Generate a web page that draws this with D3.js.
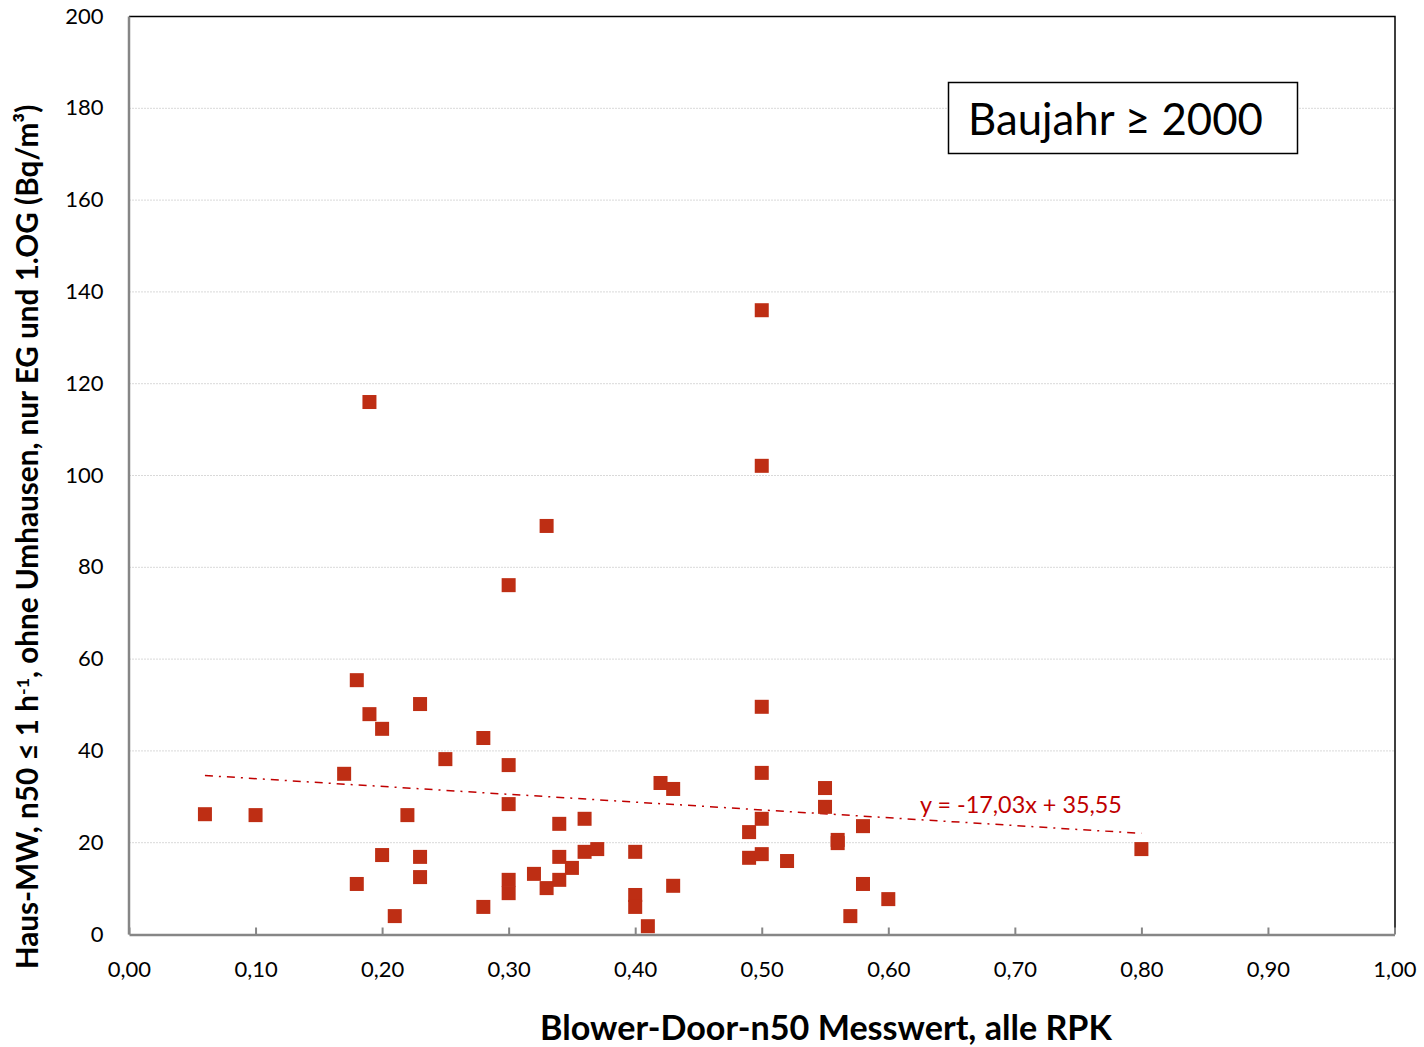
<!DOCTYPE html>
<html>
<head>
<meta charset="utf-8">
<script src="https://d3js.org/d3.v7.min.js"></script>
<style>
  body { margin: 0; background: #fff; }
  text { font-family: Lato, "Open Sans", sans-serif; }
</style>
</head>
<body>
<svg id="chart" width="1424" height="1047"></svg>
<script>
// Blower-Door n50 vs. Haus-MW, Baujahr >= 2000
var n50 = [0.06, 0.10, 0.19, 0.18, 0.19, 0.20, 0.17, 0.23, 0.25, 0.28,
    0.30, 0.30, 0.33, 0.30, 0.22, 0.18, 0.20, 0.21, 0.23, 0.23,
    0.28, 0.30, 0.30, 0.32, 0.33, 0.34, 0.34, 0.34, 0.35, 0.36,
    0.36, 0.37, 0.40, 0.40, 0.40, 0.41, 0.42, 0.43, 0.43, 0.50,
    0.50, 0.50, 0.50, 0.50, 0.49, 0.49, 0.50, 0.52, 0.55, 0.55,
    0.56, 0.56, 0.58, 0.58, 0.57, 0.60, 0.80];
var radon = [26.1, 25.9, 115.9, 55.3, 47.9, 44.7, 34.9, 50.1, 38.1, 42.7,
    76.0, 36.8, 88.9, 28.3, 25.9, 10.9, 17.2, 3.9, 16.8, 12.4,
    5.9, 11.8, 8.9, 13.1, 10.0, 24.0, 16.8, 11.8, 14.4, 25.1,
    17.9, 18.5, 17.9, 8.5, 5.9, 1.7, 32.9, 31.6, 10.5, 135.9,
    102.0, 49.5, 35.1, 25.1, 22.2, 16.6, 17.4, 15.9, 31.8, 27.7,
    20.5, 19.8, 23.5, 10.9, 3.9, 7.6, 18.5];

var trendSlope = -17.03, trendIntercept = 35.55;
var trendLabel = "y = -17,03x + 35,55";
var boxLabel = "Baujahr \u2265 2000";
var xTitle = "Blower-Door-n50 Messwert, alle RPK";

var xTicks = d3.range(0, 1.0001, 0.1);
var yTicks = d3.range(0, 201, 20);

var svg = d3.select("#chart");
var pLeft = 129, pRight = 1394.5, pTop = 16, pBottom = 934;

var x = d3.scaleLinear().domain([0, 1]).range([pLeft, pRight]);
var y = d3.scaleLinear().domain([0, 200]).range([pBottom, pTop]);
var fmt = function (d) { return d3.format(".2f")(d).replace(".", ","); };

// fit a text element to a given width by scaling its font size
function fitWidth(sel, size, w) {
    sel.attr("font-size", size * w / sel.node().getComputedTextLength());
}

// gridlines
svg.append("g")
    .selectAll("line")
    .data(yTicks.filter(function (d) { return d > 0 && d < 200; }))
    .enter()
    .append("line")
    .attr("x1", pLeft).attr("x2", pRight)
    .attr("y1", function (d) { return y(d) + 0.5; })
    .attr("y2", function (d) { return y(d) + 0.5; })
    .attr("stroke", "#d9d9d9")
    .attr("stroke-width", 1)
    .attr("stroke-dasharray", "2,1");

// frame: top and right black
svg.append("path")
    .attr("d", "M" + pLeft + "," + (pTop + 0.5) + "H" + (pRight + 0.5) + "V" + pBottom)
    .attr("fill", "none")
    .attr("stroke", "#000")
    .attr("stroke-width", 1.5);

// x axis (ticks point inward)
var xAxis = svg.append("g")
    .attr("transform", "translate(0," + (pBottom + 0.5) + ")")
    .call(d3.axisBottom(x).tickValues(xTicks).tickFormat(fmt).tickSizeInner(-7).tickSizeOuter(0).tickPadding(27));
xAxis.select(".domain").attr("stroke", "#868686").attr("stroke-width", 2.5);
xAxis.selectAll(".tick line").attr("stroke", "#868686").attr("stroke-width", 2);
xAxis.selectAll("text").attr("font-size", 22).attr("fill", "#000")
    .attr("font-family", "Lato, sans-serif");

// y axis (no ticks)
var yAxis = svg.append("g")
    .attr("transform", "translate(" + (pLeft - 0.5) + ",0)")
    .call(d3.axisLeft(y).tickValues(yTicks).tickSize(0).tickPadding(25));
yAxis.select(".domain").attr("stroke", "#868686").attr("stroke-width", 2.5);
yAxis.selectAll("text").attr("font-size", 22).attr("fill", "#000")
    .attr("font-family", "Lato, sans-serif");

// trend line
var x0 = d3.min(n50), x1 = d3.max(n50);
svg.append("line")
    .attr("x1", x(x0)).attr("y1", y(trendSlope * x0 + trendIntercept))
    .attr("x2", x(x1)).attr("y2", y(trendSlope * x1 + trendIntercept))
    .attr("stroke", "#c00000")
    .attr("stroke-width", 1.5)
    .attr("stroke-dasharray", "8,6,2,6");

var tl = svg.append("text")
    .attr("x", 920).attr("y", 813)
    .attr("font-size", 21)
    .attr("fill", "#c00000")
    .text(trendLabel);
fitWidth(tl, 21, 202);

// points
svg.append("g")
    .selectAll("rect")
    .data(n50)
    .enter()
    .append("rect")
    .attr("x", function (d) { return x(d) - 7; })
    .attr("y", function (d, i) { return y(radon[i]) - 7; })
    .attr("width", 14)
    .attr("height", 14)
    .attr("fill", "#be2e14");

// label box
svg.append("rect")
    .attr("x", 948.5).attr("y", 82.5)
    .attr("width", 349).attr("height", 71)
    .attr("fill", "#fff")
    .attr("stroke", "#000")
    .attr("stroke-width", 1.5);
var bt = svg.append("text")
    .attr("x", 968).attr("y", 135)
    .attr("font-size", 40)
    .attr("font-family", "'DejaVu Sans', sans-serif")
    .text(boxLabel);
fitWidth(bt, 40, 295);

// axis titles
var xt = svg.append("text")
    .attr("x", 826).attr("y", 1040)
    .attr("text-anchor", "middle")
    .attr("font-size", 28)
    .attr("font-weight", "bold")
    .text(xTitle);
fitWidth(xt, 28, 572);

var yt = svg.append("text")
    .attr("transform", "translate(38,537) rotate(-90)")
    .attr("text-anchor", "middle")
    .attr("font-size", 24)
    .attr("font-weight", "bold");
yt.append("tspan").text("Haus-MW, n50 \u2264 1 h");
yt.append("tspan").attr("dy", -9).attr("font-size", "0.6em").text("-1");
yt.append("tspan").attr("dy", 9).text(", ohne Umhausen, nur EG und 1.OG (Bq/m\u00b3)");
fitWidth(yt, 24, 865);
</script>
</body>
</html>
